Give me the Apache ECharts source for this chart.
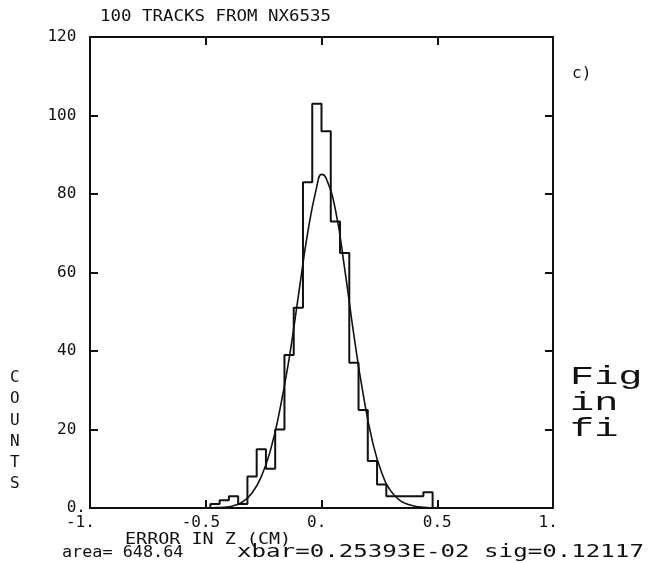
<!DOCTYPE html>
<html><head><meta charset="utf-8">
<script src="https://cdn.jsdelivr.net/npm/echarts@6/dist/echarts.min.js"></script>
<style>html,body{margin:0;padding:0;background:#fff}#c{width:652px;height:563px}</style>
</head><body><div id="c"></div>
<script>
// ---- data ----
const binCenters = [-0.46,-0.42,-0.38,-0.34,-0.30,-0.26,-0.22,-0.18,-0.14,-0.10,-0.06,-0.02,0.02,0.06,0.10,0.14,0.18,0.22,0.26,0.30,0.34,0.38,0.42,0.46];
const binCounts  = [1,2,3,1,8,15,10,20,39,51,83,103,96,73,65,37,25,12,6,3,3,3,3,4];
const binWidth = 0.04;
const curveX = [-0.46,-0.42,-0.38,-0.34,-0.30,-0.26,-0.22,-0.18,-0.14,-0.10,-0.06,-0.02,0.00,0.02,0.06,0.10,0.14,0.18,0.22,0.26,0.30,0.34,0.38,0.42,0.46];
const curveY = [0.1,0.2,0.6,1.6,3.8,8.0,14.8,25,38,54,70,82,85,84,76,61,44,29,17,9,4.3,1.9,0.8,0.3,0.1];
const xTicks = [-1,-0.5,0,0.5,1];
const xTickLabels = ['-1.','-0.5','0.','0.5','1.'];
const yTicks = [0,20,40,60,80,100,120];
const yTickLabels = ['0.','20','40','60','80','100','120'];
const titleText = '100 TRACKS FROM NX6535';
const xName = 'ERROR IN Z (CM)';
const yName = 'COUNTS';
const statsLeft = 'area= 648.64';
const statsRight = 'xbar=0.25393E-02 sig=0.12117';
const panelLabel = 'c)';
const sideLines = ['Fig','in','fi'];

// ---- build ----
const histPts = [];
for (let i = 0; i < binCenters.length; i++) {
  const l = binCenters[i] - binWidth/2, r = binCenters[i] + binWidth/2;
  if (i === 0) histPts.push([l, 0]);
  histPts.push([l, binCounts[i]]);
  histPts.push([r, binCounts[i]]);
  if (i === binCenters.length - 1) histPts.push([r, 0]);
}
const curvePts = curveX.map((x,i)=>[x, curveY[i]]);
const PF = 'DejaVu Sans Mono';
const ink = '#111';
// centre each tick label on its decimal point (monospace font)
const centreOnPoint = s => {
  const p = s.indexOf('.'); if (p < 0) return s;
  const after = s.length - 1 - p, before = p;
  const d = before - after;
  return d > 0 ? s + ' '.repeat(d) : ' '.repeat(-d) + s;
};
const xLab = v => { const i = xTicks.findIndex(t=>Math.abs(t-v)<1e-9); return i>=0 ? centreOnPoint(xTickLabels[i]) : ''; };
const yLab = v => { const i = yTicks.indexOf(v); if (i<0) return ''; const s = yTickLabels[i]; return s.indexOf('.')>=0 ? s : s + ' '; };
const axisBase = {
  axisLine:{show:true,onZero:false,lineStyle:{color:ink,width:2}},
  axisTick:{show:true,inside:true,length:8,lineStyle:{color:ink,width:2}},
  splitLine:{show:false}
};
const txt = (s, left, top, size, sx, family) => ({type:'text', left, top, scaleX:sx||1,
  style:{text:s, font:size+'px "'+(family||PF)+'"', fill:ink}});
const chart = echarts.init(document.getElementById('c'), null, {renderer:'canvas'});
const graphics = [
  txt(titleText, 100, 9, 16, 1.09),
  txt(panelLabel, 572, 66, 16, 1),
  txt(xName, 125, 532, 16, 1.15),
  txt(statsLeft, 62, 545, 16, 1.05),
  txt(statsRight, 237, 544, 17, 1.42)
];
yName.split('').forEach((ch,i)=>graphics.push(txt(ch, 10, 370+i*21.2, 16, 1)));
sideLines.forEach((s,i)=>graphics.push(txt(s, 570, 364+i*26, 26, 1.55, 'Liberation Mono')));
chart.setOption({
  animation:false,
  backgroundColor:'#fff',
  grid:{left:90, right:99, top:37, bottom:55},
  xAxis:[
    Object.assign({type:'value', min:-1, max:1, interval:0.5, position:'bottom',
      axisLabel:{formatter:xLab, color:ink, fontFamily:PF, fontSize:16, margin:7}}, axisBase),
    Object.assign({type:'value', min:-1, max:1, interval:0.5, position:'top', axisLabel:{show:false}}, axisBase)
  ],
  yAxis:[
    Object.assign({type:'value', min:0, max:120, interval:20, position:'left',
      axisLabel:{formatter:yLab, color:ink, fontFamily:PF, fontSize:16, margin:4}}, axisBase),
    Object.assign({type:'value', min:0, max:120, interval:20, position:'right', axisLabel:{show:false}}, axisBase)
  ],
  series:[
    {type:'line', data:histPts, showSymbol:false, lineStyle:{color:ink, width:2}, xAxisIndex:0, yAxisIndex:0},
    {type:'line', data:curvePts, smooth:true, showSymbol:false, lineStyle:{color:ink, width:1.6}, xAxisIndex:0, yAxisIndex:0}
  ],
  graphic:graphics
});
</script></body></html>
